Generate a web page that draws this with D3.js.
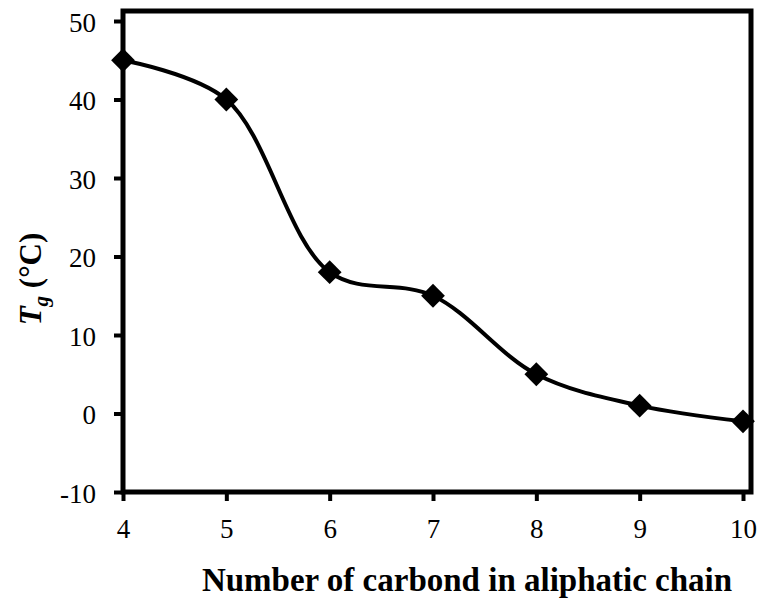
<!DOCTYPE html>
<html>
<head>
<meta charset="utf-8">
<script src="https://cdn.jsdelivr.net/npm/d3@7"></script>
<style>
  body { margin: 0; background: #fff; }
</style>
</head>
<body>
<div id="chart"></div>
<script>
// data
const carbons = [4, 5, 6, 7, 8, 9, 10];
const tgValues = [45, 40, 18, 15, 5, 1, -1];
const xTicks = [4, 5, 6, 7, 8, 9, 10];
const yTicks = [-10, 0, 10, 20, 30, 40, 50];

const fullWidth = 762, fullHeight = 600;
const serif = "Liberation Serif";

const svg = d3.select("#chart")
    .append("svg")
    .attr("width", fullWidth)
    .attr("height", fullHeight);

// scales
const x = d3.scaleLinear().domain([4, 10]).range([123, 743]);
const y = d3.scaleLinear().domain([-10, 50]).range([492, 21]);

// plot frame
svg.append("rect")
    .attr("x", x(4))
    .attr("y", 11)
    .attr("width", 751 - x(4))
    .attr("height", y(-10) - 11)
    .attr("fill", "none")
    .attr("stroke", "#000")
    .attr("stroke-width", 5);

// x axis
const xAxis = svg.append("g")
    .attr("transform", `translate(0,${y(-10)})`)
    .call(d3.axisBottom(x).tickValues(xTicks).tickSize(9).tickPadding(18).tickFormat(d => String(d)));
xAxis.attr("font-family", serif);
xAxis.selectAll("line").attr("stroke-width", 4);
xAxis.selectAll("text").attr("font-family", serif).style("font-size", "27px").attr("fill", "#000");

// y axis
const yAxis = svg.append("g")
    .attr("transform", `translate(${x(4)},0)`)
    .call(d3.axisLeft(y).tickValues(yTicks).tickSize(9).tickPadding(18).tickFormat(d => String(d)));
yAxis.attr("font-family", serif);
yAxis.selectAll("line").attr("stroke-width", 4);
yAxis.selectAll("text").attr("font-family", serif).style("font-size", "27px").attr("fill", "#000").attr("dy", "0.38em");
svg.selectAll(".domain").remove();

// smoothed line
const points = carbons.map((c, i) => ({ c: c, t: tgValues[i] }));
const line = d3.line()
    .x(d => x(d.c))
    .y(d => y(d.t))
    .curve(d3.curveCatmullRom.alpha(0.5));

svg.append("path")
    .datum(points)
    .attr("d", line)
    .attr("fill", "none")
    .attr("stroke", "#000")
    .attr("stroke-width", 4);

// diamond markers
svg.selectAll(".pt")
    .data(points)
    .enter()
    .append("path")
    .attr("class", "pt")
    .attr("transform", d => `translate(${x(d.c)},${y(d.t)})`)
    .attr("d", d3.symbol().type(d3.symbolDiamond2).size(360))
    .attr("fill", "#000");

// axis titles
svg.append("text")
    .attr("x", 467)
    .attr("y", 591)
    .attr("text-anchor", "middle")
    .attr("font-family", serif)
    .style("font-size", "33px")
    .style("font-weight", "bold")
    .text("Number of carbond in aliphatic chain");

const yTitle = svg.append("text")
    .attr("transform", `translate(41,279) rotate(-90)`)
    .attr("text-anchor", "middle")
    .attr("font-family", serif)
    .style("font-size", "31px")
    .style("font-weight", "bold");
yTitle.append("tspan").style("font-style", "italic").text("T");
yTitle.append("tspan").style("font-style", "italic").style("font-size", "21px").attr("dy", 7).text("g");
yTitle.append("tspan").attr("dy", -7).text(" (°C)");
</script>
</body>
</html>
